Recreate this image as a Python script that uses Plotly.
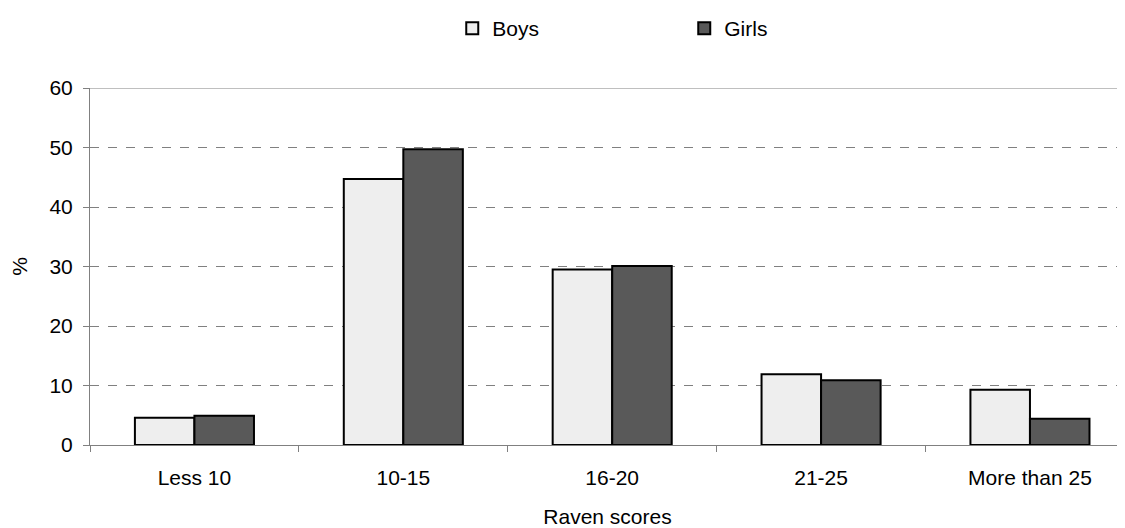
import plotly.graph_objects as go

categories = ["Less 10", "10-15", "16-20", "21-25", "More than 25"]
boys = [4.6, 44.7, 29.5, 11.9, 9.3]
girls = [4.9, 49.7, 30.1, 10.9, 4.4]

font = dict(family="Liberation Sans, Arial, sans-serif", size=21, color="black")

fig = go.Figure()
fig.add_trace(go.Bar(name="Boys", x=categories, y=boys,
                     marker=dict(color="#eeeeee", line=dict(color="black", width=2))))
fig.add_trace(go.Bar(name="Girls", x=categories, y=girls,
                     marker=dict(color="#595959", line=dict(color="black", width=2))))

fig.update_layout(
    width=1117, height=520,
    margin=dict(l=82, r=0, t=80, b=83),
    paper_bgcolor="white", plot_bgcolor="white",
    font=font,
    barmode="group", bargap=0.43, bargroupgap=0,
    legend=dict(orientation="h", x=0.35, xanchor="left", y=1.168, yanchor="middle",
                entrywidth=187, entrywidthmode="pixels", font=font,
                itemsizing="constant"),
    xaxis=dict(
        range=[-0.5, 4.455], showline=True, linecolor="#808080", linewidth=1,
        ticks="outside", tickson="boundaries", ticklen=6, tickcolor="#808080",
        tickfont=font, ticklabelstandoff=14,
        title=dict(text="Raven scores", standoff=24, font=font), showgrid=False,
    ),
    yaxis=dict(
        range=[0, 60], dtick=10, showline=True, linecolor="#808080", linewidth=1,
        ticks="outside", ticklen=6, tickcolor="#808080", tickfont=font,
        ticklabelstandoff=6,
        gridcolor="#808080", griddash="dash", gridwidth=1,
        title=dict(text="%", standoff=16, font=font), zeroline=False, mirror=False,
    ),
)
# top border line at 60
fig.add_shape(type="line", xref="paper", yref="y", x0=0, x1=1, y0=60, y1=60,
              line=dict(color="#808080", width=1))

fig.write_html("out.html")
